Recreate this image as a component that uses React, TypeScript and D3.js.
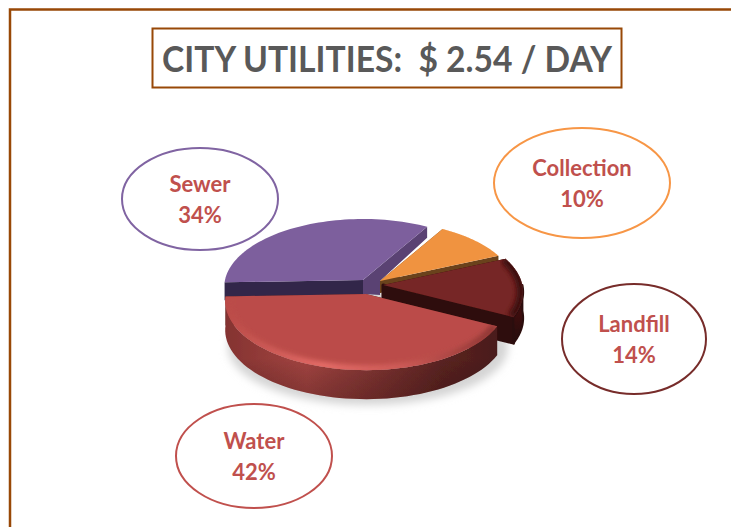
import React from "react";
import * as d3 from "d3";

const categories = ["Sewer", "Collection", "Landfill", "Water"];
const shares = [34, 10, 14, 42];
const titleText = "CITY UTILITIES:  $ 2.54 / DAY";

const W = 731, H = 527;
const A = 138, B = 67.3, P = 0.103;

const looks: Record<string, any> = {
  Sewer: { ox: 363, oy: 280, s: 1, depth: 18, top: "#7d5f9d", side: "#5a4373", cut: "#33274a", rim: "#8a6cab", stroke: "#8064a2", bubble: [200, 199, 78, 51] },
  Collection: { ox: 380, oy: 281, s: 0.975, depth: 12, top: "#f09340", side: "#6b431b", cut: "#6b431b", rim: "#f5a45c", stroke: "#f79646", bubble: [582, 183, 88, 55] },
  Landfill: { ox: 383, oy: 285, s: 1.01, depth: 26, top: "#762625", side: "url(#landSide)", cut: "#2e0d0c", rim: "#3a0f0e", stroke: "#772c2a", bubble: [634, 339, 72, 55] },
  Water: { ox: 366, oy: 294, s: 1.015, depth: 29, top: "#bb4c49", side: "url(#waterSide)", cut: "#4e1c1b", rim: "url(#waterRim)", stroke: "#c0504d", bubble: [254, 456, 78, 52] },
};

const pie = d3.pie<number>().sort(null).startAngle((-92 * Math.PI) / 180).endAngle((268 * Math.PI) / 180);
const arcs = pie(shares);

function project(a: number, r: number, name: string, z = 0): [number, number] {
  const l = looks[name];
  const u = Math.sin(a) * r, v = Math.cos(a) * r;
  const k = 1 / (1 + P * v);
  return [l.ox + A * l.s * u * k, l.oy - B * l.s * v * k + z];
}

const line = d3.line<[number, number]>();
const sampled = (a0: number, a1: number) => d3.range(0, 61).map((i) => a0 + ((a1 - a0) * i) / 60);

function topPath(name: string, a0: number, a1: number) {
  return line([project(0, 0, name), ...sampled(a0, a1).map((a) => project(a, 1, name))]) + "Z";
}
function rimPath(name: string, a0: number, a1: number) {
  return line(sampled(a0, a1).map((a) => project(a, 0.985, name))) as string;
}
function sidePath(name: string, a0: number, a1: number) {
  const d = looks[name].depth;
  const pts = sampled(a0, a1);
  return line([...pts.map((a) => project(a, 1, name)), ...pts.slice().reverse().map((a) => project(a, 1, name, d))]) + "Z";
}
function cutPath(name: string, a: number) {
  const d = looks[name].depth;
  return line([project(0, 0, name), project(a, 1, name), project(a, 1, name, d), project(0, 0, name, d)]) + "Z";
}
function sewerEndFace() {
  const end = arcs[0].endAngle;
  const a = project(0, 0, "Sewer");
  const o = project(end, 1, "Sewer");
  const b = project(0, 0, "Collection");
  return line([a, o, [o[0], o[1] + 11], b, [b[0], b[1] + 14], [a[0], a[1] + 14]]) + "Z";
}

export default function App() {
  const fontFamily = "Lato, 'Noto Sans', sans-serif";
  return (
    <svg width={W} height={H} viewBox={`0 0 ${W} ${H}`} style={{ position: "absolute", left: 0, top: 0, display: "block", background: "#fff" }}>
      <defs>
        <filter id="soft" x="-20%" y="-20%" width="140%" height="140%"><feGaussianBlur stdDeviation="0.6" /></filter>
        <filter id="blur3" x="-20%" y="-20%" width="140%" height="140%"><feGaussianBlur stdDeviation="2.6" /></filter>
        <filter id="shadow" x="-20%" y="-20%" width="140%" height="140%"><feGaussianBlur stdDeviation="4" /></filter>
        <linearGradient id="waterSide" x1="0" x2="1" y1="0" y2="0">
          <stop offset="0" stopColor="#843331" />
          <stop offset="0.3" stopColor="#a34441" />
          <stop offset="0.55" stopColor="#803432" />
          <stop offset="0.8" stopColor="#5a2321" />
          <stop offset="1" stopColor="#4a1c1b" />
        </linearGradient>
        <linearGradient id="sideShade" x1="0" x2="0" y1="0" y2="1">
          <stop offset="0.6" stopColor="#000" stopOpacity="0" />
          <stop offset="1" stopColor="#200808" stopOpacity="0.25" />
        </linearGradient>
        <linearGradient id="landSide" x1="0" x2="0" y1="0" y2="1">
          <stop offset="0" stopColor="#4a1413" />
          <stop offset="1" stopColor="#2c0b0a" />
        </linearGradient>
        <linearGradient id="waterRim" x1="0" x2="1" y1="0" y2="0">
          <stop offset="0" stopColor="#bb4c49" />
          <stop offset="0.35" stopColor="#e86f6a" />
          <stop offset="0.65" stopColor="#cf5c58" />
          <stop offset="1" stopColor="#8a3331" />
        </linearGradient>
        {categories.map((name, i) => (
          <clipPath id={`clip${i}`} key={name}>
            <path d={topPath(name, arcs[i].startAngle, arcs[i].endAngle)} />
          </clipPath>
        ))}
      </defs>

      <path d={`M10,${H}V9.5H${W}`} fill="none" stroke="#984807" strokeWidth={2.5} />

      <rect x={152.5} y={28.5} width={469} height={59} fill="#fff" stroke="#984807" strokeWidth={2} />
      <text x={387} y={72} textAnchor="middle" fontFamily={fontFamily} fontWeight={700} fontSize={37} fill="#595959" textLength={450} lengthAdjust="spacingAndGlyphs" style={{ whiteSpace: "pre" }}>
        {titleText}
      </text>

      <ellipse cx={368} cy={347} rx={140} ry={58} fill="#d4d4d4" filter="url(#shadow)" />

      <g filter="url(#soft)">
        <path d={sewerEndFace()} fill={looks.Sewer.side} />
        {categories.map((name, i) => {
          const { startAngle: a0, endAngle: a1 } = arcs[i];
          const l = looks[name];
          const frontStart = Math.max(a0, Math.PI / 2);
          const frontEnd = Math.min(a1, (3 * Math.PI) / 2);
          return (
            <g key={name}>
              <path d={cutPath(name, a0)} fill={l.cut} />
              {i > 0 && (
                <path d={cutPath(name, a1)} fill={l.cut} stroke={i === 2 ? l.cut : "none"} strokeWidth={3} strokeLinejoin="round" />
              )}
              {frontEnd > frontStart && (
                <>
                  <path d={sidePath(name, frontStart, frontEnd)} fill={l.side} stroke={i === 3 ? "none" : "#2c0b0a"} strokeWidth={2} strokeLinejoin="round" />
                  <path d={sidePath(name, frontStart, frontEnd)} fill="url(#sideShade)" />
                </>
              )}
              <path d={topPath(name, a0, a1)} fill={l.top} />
              <g clipPath={`url(#clip${i})`}>
                {i >= 2 && (
                  <path d={rimPath(name, a0, a1)} fill="none" stroke={l.rim} strokeWidth={i === 3 ? 7 : 8} filter="url(#blur3)" />
                )}
              </g>
            </g>
          );
        })}
      </g>

      {categories.map((name, i) => {
        const [cx, cy, rx, ry] = looks[name].bubble;
        return (
          <g key={name}>
            <ellipse cx={cx} cy={cy} rx={rx} ry={ry} fill="none" stroke={looks[name].stroke} strokeWidth={2} />
            <text x={cx} y={cy - 7.5} textAnchor="middle" fontFamily={fontFamily} fontWeight={700} fontSize={22} fill="#c0504d">{name}</text>
            <text x={cx} y={cy + 23.5} textAnchor="middle" fontFamily={fontFamily} fontWeight={700} fontSize={22} fill="#c0504d">{shares[i]}%</text>
          </g>
        );
      })}
    </svg>
  );
}
